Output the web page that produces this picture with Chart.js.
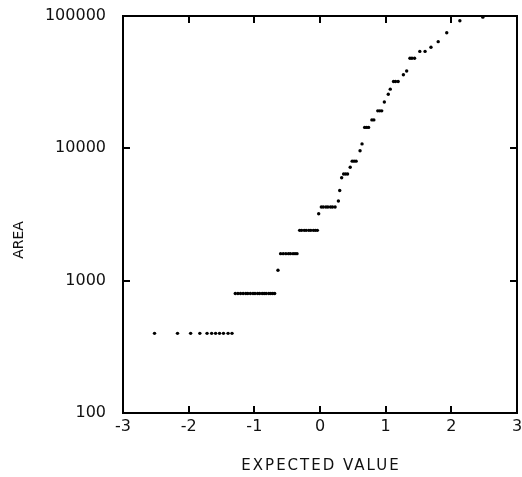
<!DOCTYPE html>
<html>
<head>
<meta charset="utf-8">
<title>AREA vs EXPECTED VALUE</title>
<script src="https://cdn.jsdelivr.net/npm/chart.js@4.4.1/dist/chart.umd.min.js"></script>
<style>
  html, body { margin: 0; padding: 0; background: #fff; }
  canvas { display: block; }
</style>
</head>
<body>
<canvas id="grafico" width="522" height="477"></canvas>
<script>
// Normal scores (expected value) for each sample, grouped by tied area
const expectedValue = [
  -2.52, -2.17, -1.97, -1.83, -1.72, -1.65, -1.59, -1.53, -1.47, -1.40, -1.34,
  -1.29, -1.25, -1.21, -1.17, -1.13, -1.10, -1.06, -1.02, -0.99, -0.95, -0.92, -0.88, -0.85, -0.82, -0.78, -0.75, -0.72, -0.69,
  -0.64,
  -0.60, -0.56, -0.52, -0.48, -0.45, -0.41, -0.38, -0.35,
  -0.31, -0.28, -0.24, -0.21, -0.17, -0.14, -0.10, -0.07, -0.04,
  -0.02,
  0.02, 0.05, 0.09, 0.12, 0.16, 0.19, 0.23,
  0.28, 0.30, 0.33,
  0.36, 0.39, 0.42,
  0.46,
  0.49, 0.52, 0.55,
  0.61, 0.64,
  0.68, 0.71, 0.74,
  0.79, 0.82,
  0.88, 0.91, 0.94,
  0.98, 1.04, 1.07,
  1.12, 1.15, 1.19,
  1.27, 1.32,
  1.37, 1.40, 1.44,
  1.52, 1.60, 1.69, 1.80, 1.93, 2.13, 2.48
];
const area = [
  400, 400, 400, 400, 400, 400, 400, 400, 400, 400, 400,
  800, 800, 800, 800, 800, 800, 800, 800, 800, 800, 800, 800, 800, 800, 800, 800, 800, 800,
  1200,
  1600, 1600, 1600, 1600, 1600, 1600, 1600, 1600,
  2400, 2400, 2400, 2400, 2400, 2400, 2400, 2400, 2400,
  3200,
  3600, 3600, 3600, 3600, 3600, 3600, 3600,
  4000, 4800, 6000,
  6400, 6400, 6400,
  7200,
  8000, 8000, 8000,
  9600, 10800,
  14400, 14400, 14400,
  16400, 16400,
  19200, 19200, 19200,
  22400, 25600, 28000,
  32000, 32000, 32000,
  36000, 38400,
  48000, 48000, 48000,
  54000, 54000, 58000, 64000, 74800, 92000, 98000
];
const xTicks = [-3, -2, -1, 0, 1, 2, 3];
const yTicks = [100, 1000, 10000, 100000];

const fuente = '"DejaVu Sans", sans-serif';

// box around the plot, inward tick marks on all four sides, axis titles
const marco = {
  id: 'marco',
  afterDatasetsDraw(chart) {
    const { ctx, chartArea: a, scales: { x, y } } = chart;
    ctx.save();
    ctx.strokeStyle = '#000';
    ctx.lineWidth = 2;
    ctx.strokeRect(a.left, a.top, a.right - a.left, a.bottom - a.top);
    ctx.beginPath();
    xTicks.slice(1, -1).forEach(v => {
      const px = Math.round(x.getPixelForValue(v));
      ctx.moveTo(px, a.bottom); ctx.lineTo(px, a.bottom - 7);
      ctx.moveTo(px, a.top); ctx.lineTo(px, a.top + 7);
    });
    yTicks.slice(1, -1).forEach(v => {
      const py = Math.round(y.getPixelForValue(v));
      ctx.moveTo(a.left, py); ctx.lineTo(a.left + 7, py);
      ctx.moveTo(a.right, py); ctx.lineTo(a.right - 7, py);
    });
    ctx.stroke();

    ctx.fillStyle = '#111';
    ctx.textAlign = 'center';
    ctx.textBaseline = 'middle';
    ctx.font = '15px ' + fuente;
    ctx.letterSpacing = '2px';
    ctx.fillText('EXPECTED VALUE', (a.left + a.right) / 2 + 1, 466);
    ctx.letterSpacing = '0px';
    ctx.font = '14px ' + fuente;
    ctx.translate(19, 240);
    ctx.rotate(-Math.PI / 2);
    ctx.fillText('AREA', 0, 0);
    ctx.restore();
  }
};

new Chart(document.getElementById('grafico'), {
  type: 'scatter',
  data: {
    datasets: [{
      data: expectedValue.map((v, i) => ({ x: v, y: area[i] })),
      backgroundColor: '#000',
      borderWidth: 0,
      pointRadius: 1.7,
      pointHoverRadius: 1.7
    }]
  },
  options: {
    responsive: false,
    animation: false,
    devicePixelRatio: 1,
    layout: { padding: { top: 16, right: 5, left: 0, bottom: 0 } },
    plugins: { legend: { display: false }, tooltip: { enabled: false } },
    scales: {
      x: {
        type: 'linear',
        min: -3,
        max: 3,
        grid: { display: false, drawTicks: false },
        border: { display: false },
        afterBuildTicks: s => { s.ticks = xTicks.map(v => ({ value: v })); },
        ticks: { color: '#111', font: { family: fuente, size: 16 }, padding: 4 },
        afterFit: s => { s.height = 64; s.paddingLeft = 0; s.paddingRight = 0; }
      },
      y: {
        type: 'logarithmic',
        min: 100,
        max: 100000,
        grid: { display: false, drawTicks: false },
        border: { display: false },
        afterBuildTicks: s => { s.ticks = yTicks.map(v => ({ value: v })); },
        ticks: {
          color: '#111',
          font: { family: fuente, size: 16 },
          padding: 17,
          callback: v => String(v)
        },
        afterFit: s => { s.width = 123; s.paddingTop = 0; s.paddingBottom = 0; }
      }
    }
  },
  plugins: [marco]
});
</script>
</body>
</html>
